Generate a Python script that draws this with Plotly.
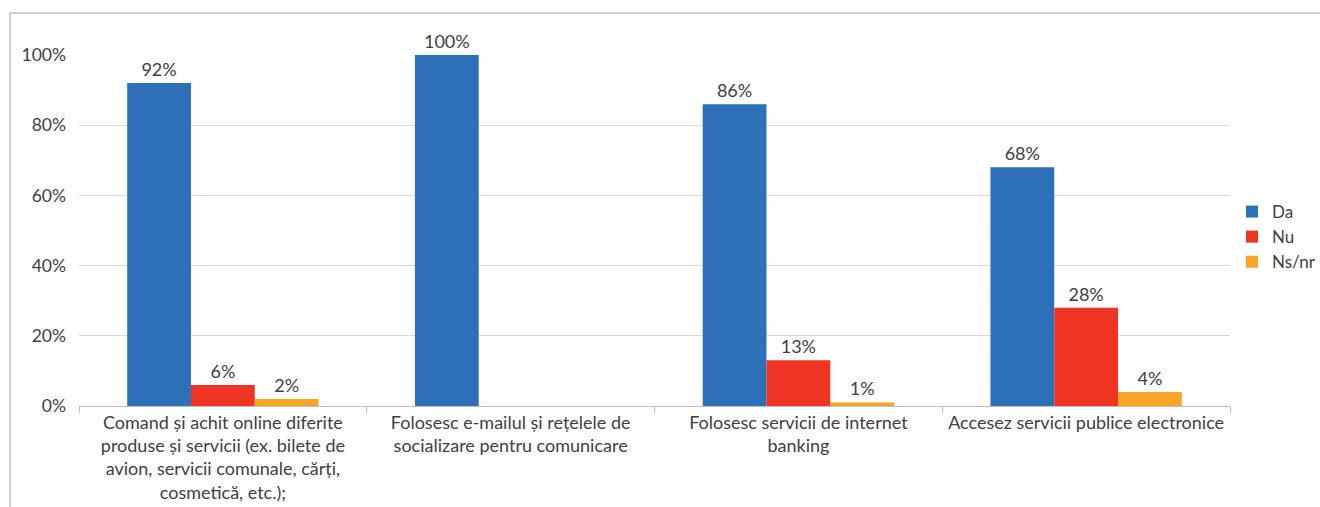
import plotly.graph_objects as go

categories = [
    "Comand și achit online diferite<br>produse și servicii (ex. bilete de<br>avion, servicii comunale, cărți,<br>cosmetică, etc.);",
    "Folosesc e-mailul și rețelele de<br>socializare pentru comunicare",
    "Folosesc servicii de internet<br>banking",
    "Accesez servicii publice electronice",
]
series_names = ["Da", "Nu", "Ns/nr"]
da = [0.92, 1.00, 0.86, 0.68]
nu = [0.06, 0.0, 0.13, 0.28]
nsnr = [0.02, 0.0, 0.01, 0.04]
colors = ["#2E70B8", "#EE3524", "#F8A427"]
tick_vals = [0, 0.2, 0.4, 0.6, 0.8, 1.0]
tick_text = ["0%", "20%", "40%", "60%", "80%", "100%"]

FONT = "Lato, Open Sans, sans-serif"
TXT = "#404040"

fig = go.Figure()
for name, vals, col in zip(series_names, [da, nu, nsnr], colors):
    fig.add_trace(go.Bar(
        name=name, x=categories, y=vals, marker=dict(color=col, line=dict(width=0)),
        text=[f"{round(v*100)}%" if v > 0 else "" for v in vals],
        textposition="outside", cliponaxis=False,
        textfont=dict(size=18, color=TXT, family=FONT),
    ))

L, R, T, B = 79, 90, 55, 101
W, H = 1320, 507
pw, ph = W - L - R, H - T - B

fig.update_layout(
    width=W, height=H, barmode="group", bargap=0.335, bargroupgap=0,
    margin=dict(l=L, r=R, t=T, b=B, autoexpand=False),
    plot_bgcolor="white", paper_bgcolor="white",
    font=dict(family=FONT, size=18, color=TXT),
    showlegend=True,
    legend=dict(x=(1232 - L) / pw, xanchor="left", y=(406 - 237) / ph, yanchor="middle",
                font=dict(size=17, color=TXT, family=FONT), tracegroupgap=0,
                itemwidth=30, bgcolor="rgba(0,0,0,0)"),
    xaxis=dict(showgrid=False, ticks="outside", tickson="boundaries", ticklen=6,
               tickcolor="#BFBFBF", showline=True, linecolor="#BFBFBF", linewidth=1,
               tickangle=0, ticklabelstandoff=0,
               tickfont=dict(size=18, color=TXT, family=FONT)),
    yaxis=dict(range=[0, 1.0], tickvals=tick_vals, ticktext=tick_text, showgrid=True,
               gridcolor="#D9D9D9", gridwidth=1, zeroline=False, showline=False,
               ticks="", ticklabelstandoff=12,
               tickfont=dict(size=17.5, color=TXT, family=FONT)),
    shapes=[dict(type="rect", xref="paper", yref="paper",
                 x0=(10 - L) / pw, x1=(1400 - L) / pw,
                 y0=(406 - 600) / ph, y1=(406 - 13) / ph,
                 line=dict(color="#BFBFBF", width=1.5), fillcolor="rgba(0,0,0,0)", layer="below")],
)

fig.write_html("out.html")
